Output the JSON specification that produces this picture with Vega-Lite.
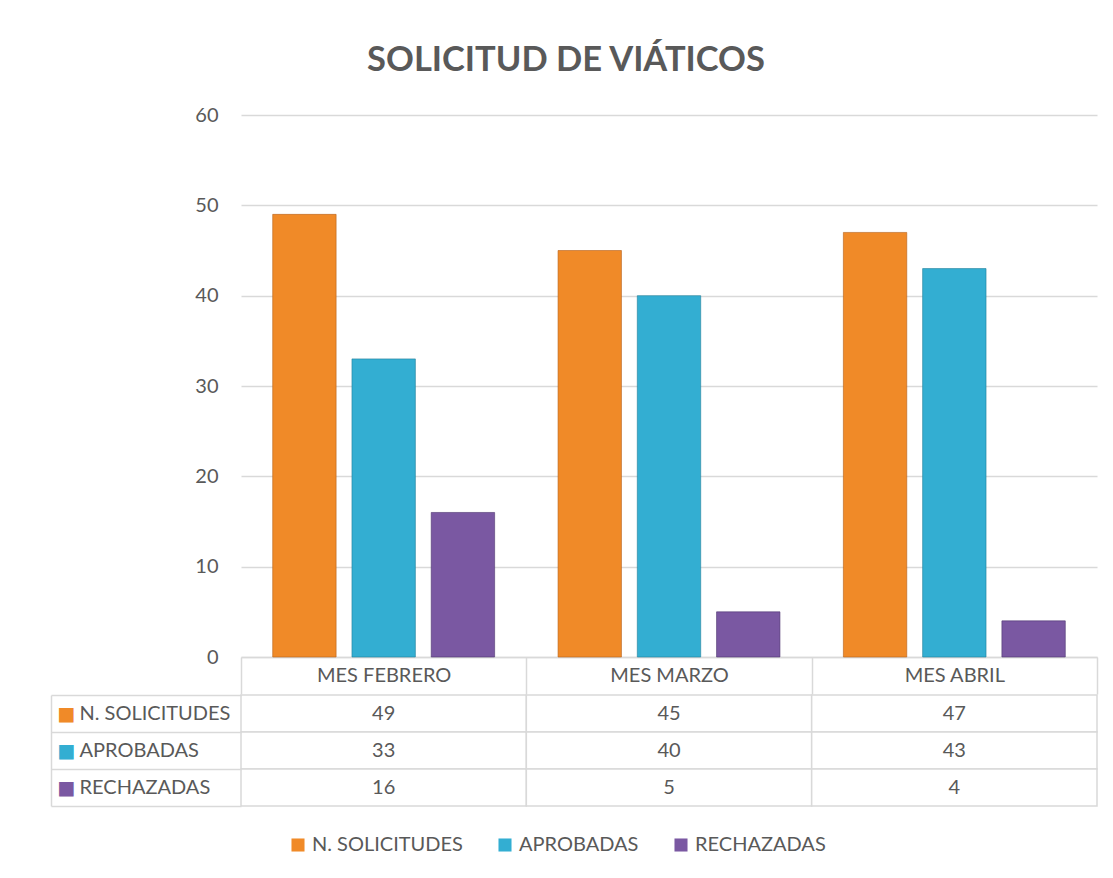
{
  "$schema": "https://vega.github.io/schema/vega-lite/v6.json",
  "padding": {"left": 50, "top": 42, "right": 17, "bottom": 5},
  "autosize": {"type": "pad"},
  "background": "white",
  "config": {"font": "Lato", "view": {"stroke": null}},
  "title": {"text": "SOLICITUD DE VIÁTICOS", "fontSize": 34.5, "fontWeight": "bold", "color": "#595959", "anchor": "middle", "offset": 27, "dx": -8},
  "datasets": {
    "d": [
      {"mes": "MES FEBRERO", "serie": "N. SOLICITUDES", "valor": 49},
      {"mes": "MES FEBRERO", "serie": "APROBADAS", "valor": 33},
      {"mes": "MES FEBRERO", "serie": "RECHAZADAS", "valor": 16},
      {"mes": "MES MARZO", "serie": "N. SOLICITUDES", "valor": 45},
      {"mes": "MES MARZO", "serie": "APROBADAS", "valor": 40},
      {"mes": "MES MARZO", "serie": "RECHAZADAS", "valor": 5},
      {"mes": "MES ABRIL", "serie": "N. SOLICITUDES", "valor": 47},
      {"mes": "MES ABRIL", "serie": "APROBADAS", "valor": 43},
      {"mes": "MES ABRIL", "serie": "RECHAZADAS", "valor": 4}
    ]
  },
  "spacing": -11,
  "vconcat": [
    {
      "width": 856,
      "height": 542,
      "data": {"name": "d"},
      "mark": {"type": "bar", "strokeWidth": 1, "strokeOpacity": 0.6},
      "encoding": {
        "x": {
          "field": "mes", "type": "nominal",
          "sort": ["MES FEBRERO", "MES MARZO", "MES ABRIL"],
          "scale": {"paddingInner": 0, "paddingOuter": 0},
          "axis": {"title": null, "labelAngle": 0, "labelFontSize": 20, "labelColor": "#595959", "domainColor": "#d9d9d9", "domainWidth": 1.5, "tickColor": "#d9d9d9", "tickWidth": 1.5, "tickSize": 37, "tickBand": "extent", "labelPadding": -29, "labelBaseline": "top"}
        },
        "xOffset": {
          "field": "serie", "type": "nominal",
          "sort": ["N. SOLICITUDES", "APROBADAS", "RECHAZADAS"],
          "scale": {"paddingInner": 0.2, "paddingOuter": 0.4}
        },
        "y": {
          "field": "valor", "type": "quantitative",
          "scale": {"domain": [0, 60], "nice": false},
          "axis": {"title": null, "values": [0, 10, 20, 30, 40, 50, 60], "grid": true, "gridColor": "#d9d9d9", "gridWidth": 1.5, "domain": false, "ticks": false, "labelFontSize": 20, "labelColor": "#595959", "labelPadding": 23}
        },
        "color": {
          "field": "serie", "type": "nominal",
          "sort": ["N. SOLICITUDES", "APROBADAS", "RECHAZADAS"],
          "scale": {"domain": ["N. SOLICITUDES", "APROBADAS", "RECHAZADAS"], "range": ["#F08A28", "#33AED2", "#7A58A2"]},
          "legend": {"orient": "none", "legendX": 47, "legendY": 720, "title": null, "direction": "horizontal", "symbolType": "square", "symbolSize": 170, "symbolStrokeWidth": 0, "labelFontSize": 20, "labelColor": "#595959", "columnPadding": 32, "labelOffset": 4}
        },
        "stroke": {
          "field": "serie", "type": "nominal",
          "scale": {"domain": ["N. SOLICITUDES", "APROBADAS", "RECHAZADAS"], "range": ["#B5601A", "#1F7F99", "#4F3570"]},
          "legend": null
        }
      }
    },
    {
      "width": 856,
      "height": 111,
      "data": {"name": "d"},
      "layer": [
        {
          "mark": {"type": "rect", "fill": "white", "stroke": "#d9d9d9", "strokeWidth": 1.5},
          "encoding": {
            "x": {"field": "mes", "type": "nominal", "sort": ["MES FEBRERO", "MES MARZO", "MES ABRIL"], "scale": {"paddingInner": 0, "paddingOuter": 0}, "axis": null},
            "y": {
              "field": "serie", "type": "nominal",
              "sort": ["N. SOLICITUDES", "APROBADAS", "RECHAZADAS"],
              "scale": {"paddingInner": 0, "paddingOuter": 0},
              "axis": {"title": null, "orient": "left", "domain": false, "ticks": true, "tickBand": "extent", "tickSize": 190, "tickColor": "#d9d9d9", "tickWidth": 1.5, "labelAlign": "left", "labelPadding": -28, "labelFontSize": 20, "labelColor": "#595959"}
            }
          }
        },
        {
          "mark": {"type": "text", "fontSize": 20, "color": "#595959"},
          "encoding": {
            "x": {"field": "mes", "type": "nominal", "sort": ["MES FEBRERO", "MES MARZO", "MES ABRIL"], "axis": null},
            "y": {
              "field": "serie", "type": "nominal",
              "sort": ["N. SOLICITUDES", "APROBADAS", "RECHAZADAS"],
              "axis": {"title": null, "orient": "left", "offset": 190, "domain": true, "domainColor": "#d9d9d9", "domainWidth": 1.5, "ticks": false, "labelExpr": "'■'", "labelAlign": "left", "labelPadding": -6, "labelFontSize": 19, "labelFont": "DejaVu Sans",
                "labelColor": {"condition": [{"test": "datum.value == 'N. SOLICITUDES'", "value": "#F08A28"}, {"test": "datum.value == 'APROBADAS'", "value": "#33AED2"}], "value": "#7A58A2"}}
            },
            "text": {"field": "valor", "type": "quantitative"}
          }
        }
      ],
      "resolve": {"axis": {"y": "independent"}}
    }
  ]
}
